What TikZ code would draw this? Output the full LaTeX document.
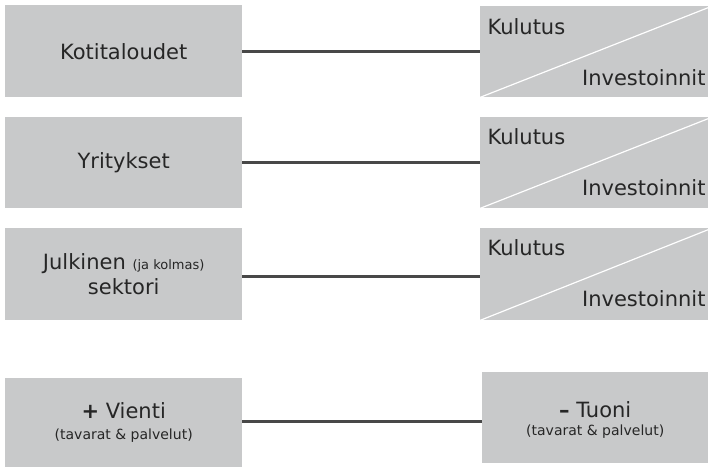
\documentclass[tikz,border=0pt]{standalone}
\usepackage{fontspec}
\setmainfont{DejaVu Sans}
\begin{document}
\begin{tikzpicture}[x=1pt,y=-1pt,
  box/.style={fill=boxgray,draw=none,inner sep=0pt,anchor=north west},
  link/.style={draw=linkgray,line width=3pt},
  big/.style={text=txt,font=\fontsize{21}{25}\selectfont},
  small/.style={text=txt,font=\fontsize{14}{16}\selectfont},
  split/.style={draw=white,line width=1.2pt}]
\definecolor{boxgray}{HTML}{C8C9CA}
\definecolor{linkgray}{HTML}{484848}
\definecolor{txt}{HTML}{262626}
\useasboundingbox (0,0) rectangle (708,468);
\fill[white] (0,0) rectangle (708,468);

% sector boxes on the left
\node[box,minimum width=237pt,minimum height=92pt] (h) at (5,5) {};
\node[box,minimum width=237pt,minimum height=91pt] (y) at (5,117) {};
\node[box,minimum width=237pt,minimum height=92pt] (p) at (5,228) {};
\node[box,minimum width=237pt,minimum height=89pt] (v) at (5,378) {};

% demand boxes on the right
\node[box,minimum width=232pt,minimum height=91pt] (rh) at (480,6) {};
\node[box,minimum width=232pt,minimum height=91pt] (ry) at (480,117) {};
\node[box,minimum width=232pt,minimum height=92pt] (rp) at (480,228) {};
\node[box,minimum width=226pt,minimum height=91pt] (t) at (482,372) {};

% diagonal splits
\draw[split] (rh.south west) -- (rh.north east);
\draw[split] (ry.south west) -- (ry.north east);
\draw[split] (rp.south west) -- (rp.north east);

% connectors
\draw[link] (h.east) -- (h.east -| rh.west);
\draw[link] (y.east) -- (y.east -| ry.west);
\draw[link] ([yshift=-2pt]p.east) -- ([yshift=-2pt]p.east -| rp.west);
\draw[link] ([yshift=1.5pt]v.east) -- ([yshift=1.5pt]v.east -| t.west);

% left labels
\node[big] (hl) at (h.center) {Kotitaloudet};
\node[big] (yl) at (y.center) {Yritykset};
\node[big,align=center] (pl) at (p.center) {Julkinen {\fontsize{13}{15}\selectfont(ja kolmas)}\\[0pt]sektori};
\node[big] (vl) at ([yshift=12pt]v.center) {\textbf{+} Vienti};
\node[small] (vs) at ([yshift=-13pt]v.center) {(tavarat \& palvelut)};

% right labels
\node[big,anchor=west] (hk) at (484,27) {Kulutus};
\node[big,anchor=east] (hi) at (709,78) {Investoinnit};
\node[big,anchor=west] (yk) at (484,137) {Kulutus};
\node[big,anchor=east] (yi) at (709,188) {Investoinnit};
\node[big,anchor=west] (pk) at (484,248) {Kulutus};
\node[big,anchor=east] (pi) at (709,299) {Investoinnit};
\node[big] (tl) at ([yshift=8pt]t.center) {\textbf{–} Tuoni};
\node[small] (ts) at ([yshift=-14pt]t.center) {(tavarat \& palvelut)};
\end{tikzpicture}
\end{document}
